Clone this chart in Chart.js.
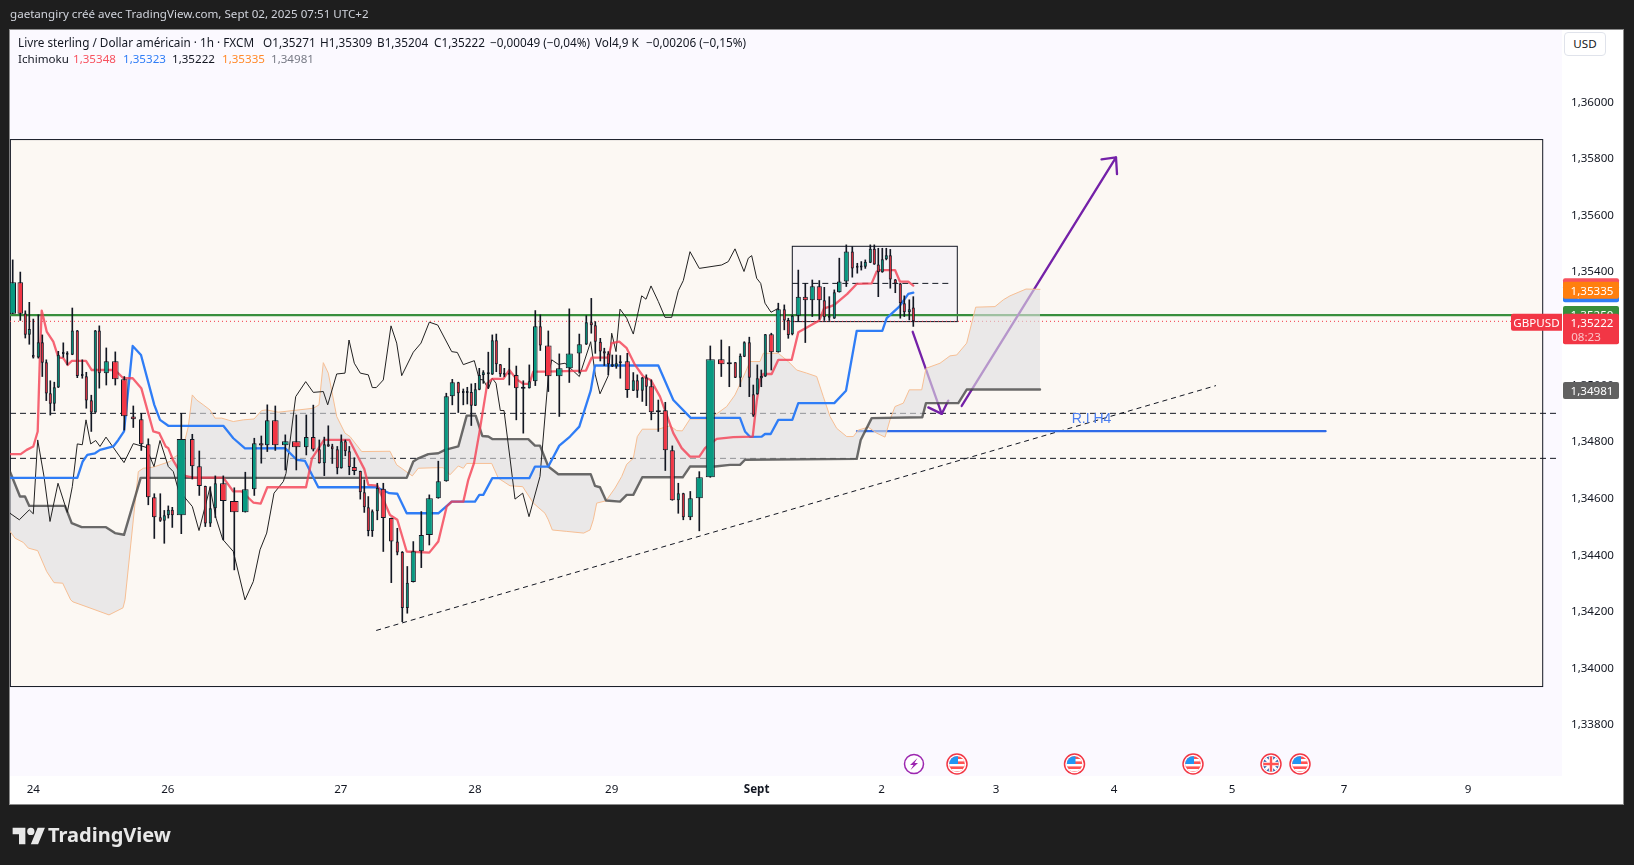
<!DOCTYPE html>
<html lang="fr"><head><meta charset="utf-8"><title>GBPUSD</title>
<script src="https://cdn.jsdelivr.net/npm/chart.js@4/dist/chart.umd.min.js"></script>
<style>
html,body{margin:0;padding:0;background:#1e1e1e;width:1634px;height:865px;overflow:hidden;font-family:"Noto Sans",sans-serif}
#paper{position:absolute;left:10px;top:30px;width:1613px;height:774px;background:#fff;box-shadow:0 0 0 1px #8a8a8a}
canvas{position:absolute;left:0;top:0}
.t{position:absolute;white-space:pre;font-size:11.6px;line-height:16px;z-index:3}
.r{font-size:11.75px;top:34px;color:#131722}
#credit{left:10px;top:6px;color:#d1d4dc}
#usd{left:1564px;top:32px;width:42px;height:24px;box-sizing:border-box;border:1px solid #e0e3eb;border-radius:4px;text-align:center;line-height:22px;background:#fff;color:#131722}
#logoText{left:48px;top:821px;font:700 20px/28px "Noto Sans",sans-serif;color:#e8e8e8}
#logo{position:absolute;left:11px;top:826px;z-index:3}
</style></head><body>
<div id="paper"></div>
<canvas id="c" width="1634" height="865"></canvas>
<div class="t" id="credit">gaetangiry créé avec TradingView.com, Sept 02, 2025 07:51 UTC+2</div>
<div class="t r" style="left:18px">Livre sterling / Dollar américain · 1h · FXCM</div>
<div class="t r" style="left:263px">O1,35271</div>
<div class="t r" style="left:320px">H1,35309</div>
<div class="t r" style="left:377px">B1,35204</div>
<div class="t r" style="left:434px">C1,35222</div>
<div class="t r" style="left:490px">−0,00049 (−0,04%)</div>
<div class="t r" style="left:595px">Vol4,9 K</div>
<div class="t r" style="left:646px">−0,00206 (−0,15%)</div>
<div class="t" style="left:18px;top:51px;color:#131722">Ichimoku</div>
<div class="t" style="left:73px;top:51px;color:#f7525f">1,35348</div>
<div class="t" style="left:123px;top:51px;color:#2f7df6">1,35323</div>
<div class="t" style="left:172px;top:51px;color:#131722">1,35222</div>
<div class="t" style="left:222px;top:51px;color:#ff8a2b">1,35335</div>
<div class="t" style="left:271px;top:51px;color:#787b86">1,34981</div>
<div class="t" id="usd">USD</div>
<svg id="logo" width="36" height="20" viewBox="0 0 36 22"><path fill="#e8e8e8" d="M14 20H7V9H0V2h14v18zM28 20h-8l7.5-18h8L28 20z"/><circle fill="#e8e8e8" cx="20" cy="6" r="4"/></svg>
<div class="t" id="logoText">TradingView</div>
<script>
const candleX=[12.7,20.3,25.3,29.3,33.3,38.3,42.3,46.3,50.3,54.3,
58.3,63.3,67.3,72.3,77.3,82.3,86.3,91.3,95.3,99.3,
106.3,115.3,124.3,133.3,141.3,148.3,154.3,160.3,164.3,168.3,
172.3,181.3,192.3,199.3,205.3,210.3,215.3,223.3,234.3,245.3,
254.3,261.3,267.3,275.3,285.3,296.3,306.3,313.3,319.3,324.3,
328.3,332.3,337.3,341.3,345.3,349.3,354.3,360.3,364.3,368.3,
372.3,377.3,383.3,391.3,397.3,402.3,407.3,413.3,421.3,429.3,
438.3,446.3,452.3,458.3,463.3,467.3,471.3,475.3,479.3,483.3,
488.3,492.3,496.3,500.3,504.3,509.3,516.3,523.3,529.3,535.3,
540.3,548.3,559.3,569.3,579.3,586.3,591.3,595.3,600.3,604.3,
608.3,612.3,616.3,620.3,627.3,633.3,637.3,642.3,646.3,651.3,
658.3,665.3,672.3,678.3,683.3,690.3,699.3,710.3,721.3,729.3,
735.3,740.3,744.3,749.3,753.3,757.3,761.3,765.3,771.3,778.3,
784.3,788.3,792.3,798.3,805.3,812.3,819.3,824.3,829.3,834.3,
839.3,846.3,852.3,857.3,861.3,865.3,870.3,874.3,878.3,882.3,
886.3,890.3,895.3,900.3,904.3,909.3,913.3];
const candleWidth=[6,5,2.5,2.5,2,2.5,2.5,2.5,2.5,2.5,
2.5,2,2,2.5,2.5,2,2.5,2.5,2.5,2.5,
4.5,6,6,4.5,4,4,4,2.5,2.5,2.5,
2.5,8.5,4,4.5,2.5,2.5,2.5,6,8,6,
4,4,4,6,6,8,4,4,2.5,2.5,
2.5,2,2.5,2.5,2.5,2.5,4.5,2.5,2.5,2.5,
2.5,2.5,4.5,4,2.5,2.5,2.5,4.5,4.5,6.5,
4.5,4.5,4.5,2.5,2,2,2.5,2.5,2.5,2.5,
2.5,2.5,2.5,2.5,2,2,4,4,2.5,4,
2.5,6,6,6.5,4.5,2.5,2.5,2.5,2.5,2.5,
2.5,2.5,2.5,2.5,4.5,2.5,2.5,2.5,2.5,4.5,
4.5,4.5,4.5,2.5,2.5,4.5,6.5,8.5,6,4.5,
2.5,2.5,2.5,2.5,2.5,2.5,2.5,2.5,4.5,4.5,
2.5,2.5,2.5,4.5,4.5,4.5,4.5,2.5,2,2.5,
4,4.5,2.5,2,2,2.5,2.5,2.5,2.5,2.5,
2.5,2.5,2.5,2.5,2.5,2.5,2.5];
const candleOpen=[1.35249,1.35360,1.35250,1.35175,1.35103,1.35094,1.35148,1.35077,1.34968,1.34931,
1.34988,1.35109,1.35104,1.35104,1.35190,1.35032,1.35028,1.34943,1.34900,1.35190,
1.35039,1.35081,1.35017,1.34886,1.34876,1.34788,1.34601,1.34530,1.34518,1.34537,
1.34556,1.34537,1.34806,1.34710,1.34640,1.34508,1.34562,1.34650,1.34587,1.34548,
1.34629,1.34791,1.34784,1.34873,1.34784,1.34798,1.34777,1.34813,1.34770,1.34721,
1.34788,1.34781,1.34770,1.34703,1.34798,1.34763,1.34707,1.34693,1.34618,1.34565,
1.34481,1.34551,1.34631,1.34527,1.34444,1.34407,1.34209,1.34301,1.34410,1.34467,
1.34597,1.34657,1.34957,1.35007,1.34972,1.34972,1.34972,1.34924,1.34980,1.35032,
1.35042,1.35034,1.35155,1.35070,1.35035,1.35035,1.35032,1.34987,1.34986,1.35010,
1.35205,1.35137,1.35028,1.35056,1.35108,1.35140,1.35219,1.35208,1.35150,1.35116,
1.35108,1.35062,1.35062,1.35074,1.35081,1.34977,1.35014,1.34977,1.35024,1.34993,
1.34901,1.34908,1.34767,1.34590,1.34615,1.34530,1.34597,1.34671,1.35088,1.35070,
1.35077,1.35023,1.35097,1.35148,1.34964,1.34964,1.35021,1.35027,1.35176,1.35113,
1.35265,1.35227,1.35176,1.35242,1.35309,1.35296,1.35346,1.35296,1.35237,1.35232,
1.35325,1.35363,1.35469,1.35413,1.35412,1.35415,1.35429,1.35478,1.35423,1.35395,
1.35441,1.35455,1.35370,1.35356,1.35286,1.35254,1.35271];
const candleClose=[1.35360,1.35249,1.35175,1.35195,1.35094,1.35148,1.35076,1.34967,1.34931,1.34989,
1.35104,1.35107,1.35109,1.35190,1.35029,1.35029,1.34942,1.34900,1.35190,1.35039,
1.35081,1.35017,1.34887,1.34876,1.34788,1.34601,1.34530,1.34518,1.34537,1.34556,
1.34537,1.34806,1.34710,1.34640,1.34508,1.34562,1.34650,1.34587,1.34548,1.34629,
1.34791,1.34783,1.34873,1.34784,1.34798,1.34777,1.34813,1.34769,1.34721,1.34788,
1.34780,1.34770,1.34703,1.34798,1.34763,1.34707,1.34693,1.34618,1.34565,1.34481,
1.34551,1.34633,1.34527,1.34444,1.34405,1.34209,1.34299,1.34410,1.34467,1.34597,
1.34657,1.34957,1.35007,1.34968,1.34969,1.34969,1.34924,1.34982,1.35032,1.35042,
1.35035,1.35155,1.35070,1.35035,1.35033,1.35033,1.34986,1.34984,1.35010,1.35205,
1.35137,1.35028,1.35056,1.35108,1.35141,1.35219,1.35208,1.35150,1.35115,1.35108,
1.35070,1.35070,1.35074,1.35081,1.34979,1.35014,1.34977,1.35024,1.34991,1.34901,
1.34908,1.34767,1.34590,1.34615,1.34530,1.34597,1.34671,1.35088,1.35070,1.35077,
1.35023,1.35100,1.35148,1.35023,1.34889,1.35021,1.35029,1.35176,1.35113,1.35265,
1.35225,1.35174,1.35242,1.35309,1.35296,1.35346,1.35296,1.35236,1.35235,1.35325,
1.35363,1.35469,1.35409,1.35411,1.35418,1.35432,1.35478,1.35423,1.35395,1.35441,
1.35455,1.35370,1.35356,1.35286,1.35254,1.35265,1.35222];
const candleHigh=[1.35439,1.35396,1.35259,1.35289,1.35230,1.35245,1.35174,1.35086,1.35012,1.35007,
1.35116,1.35146,1.35115,1.35269,1.35190,1.35086,1.35042,1.34961,1.35190,1.35206,
1.35128,1.35114,1.35027,1.34923,1.34897,1.34807,1.34613,1.34613,1.34554,1.34570,
1.34565,1.34897,1.34823,1.34764,1.34640,1.34638,1.34676,1.34676,1.34634,1.34689,
1.34809,1.34817,1.34927,1.34923,1.34821,1.34891,1.34891,1.34926,1.34803,1.34813,
1.34853,1.34788,1.34780,1.34821,1.34803,1.34780,1.34740,1.34693,1.34662,1.34603,
1.34556,1.34650,1.34650,1.34527,1.34491,1.34409,1.34356,1.34444,1.34550,1.34609,
1.34728,1.34968,1.35017,1.35007,1.34983,1.34989,1.35001,1.35003,1.35056,1.35048,
1.35113,1.35174,1.35177,1.35070,1.35056,1.35127,1.35064,1.35012,1.35068,1.35260,
1.35245,1.35188,1.35107,1.35266,1.35177,1.35242,1.35303,1.35221,1.35162,1.35127,
1.35115,1.35103,1.35103,1.35101,1.35109,1.35041,1.35033,1.35024,1.35033,1.35015,
1.34944,1.34936,1.34782,1.34650,1.34615,1.34621,1.34691,1.35135,1.35156,1.35133,
1.35077,1.35107,1.35150,1.35166,1.34997,1.35068,1.35050,1.35176,1.35180,1.35286,
1.35280,1.35233,1.35245,1.35403,1.35356,1.35368,1.35366,1.35342,1.35309,1.35333,
1.35445,1.35492,1.35486,1.35427,1.35433,1.35439,1.35492,1.35492,1.35480,1.35480,
1.35480,1.35476,1.35370,1.35356,1.35312,1.35298,1.35309];
const candleLow=[1.35249,1.35225,1.35163,1.35141,1.35092,1.35092,1.35027,1.34942,1.34891,1.34906,
1.34988,1.35095,1.35068,1.35104,1.35023,1.35021,1.34915,1.34833,1.34900,1.34986,
1.34997,1.34997,1.34838,1.34847,1.34766,1.34574,1.34455,1.34515,1.34438,1.34527,
1.34494,1.34472,1.34665,1.34607,1.34497,1.34497,1.34529,1.34450,1.34344,1.34548,
1.34607,1.34721,1.34762,1.34766,1.34697,1.34697,1.34750,1.34764,1.34721,1.34677,
1.34780,1.34720,1.34683,1.34703,1.34747,1.34680,1.34680,1.34594,1.34547,1.34464,
1.34462,1.34521,1.34409,1.34299,1.34397,1.34161,1.34191,1.34301,1.34352,1.34432,
1.34597,1.34657,1.34927,1.34900,1.34927,1.34930,1.34854,1.34924,1.34980,1.35003,
1.34986,1.35034,1.35044,1.35027,1.35027,1.34997,1.34874,1.34827,1.34986,1.34995,
1.35119,1.34974,1.34886,1.35006,1.35039,1.35140,1.35180,1.35109,1.35082,1.35066,
1.35033,1.35062,1.35056,1.35021,1.34953,1.34977,1.34953,1.34939,1.34924,1.34874,
1.34833,1.34695,1.34590,1.34544,1.34521,1.34521,1.34482,1.34671,1.35027,1.34991,
1.35023,1.34991,1.35097,1.34956,1.34886,1.34964,1.34991,1.35027,1.35050,1.35113,
1.35192,1.35162,1.35174,1.35221,1.35147,1.35239,1.35229,1.35225,1.35225,1.35232,
1.35325,1.35345,1.35378,1.35392,1.35403,1.35409,1.35429,1.35423,1.35309,1.35395,
1.35439,1.35339,1.35323,1.35233,1.35239,1.35227,1.35204];

const tenkan=[[10,1.34753],[20.7,1.34753],[26.7,1.34768],[33.3,1.34780],[37.7,1.34833],[40,1.35109],[41.7,1.35260],[44,1.35227],[46.7,1.35186],[53.3,1.35150],[58.3,1.35095],[63.3,1.35092],[67.7,1.35068],[71.7,1.35082],[86,1.35082],[91.7,1.35050],[115,1.35050],[123.3,1.35021],[132.7,1.35021],[141.3,1.34986],[153.3,1.34833],[159.3,1.34827],[165.7,1.34780],[168.3,1.34774],[173.3,1.34730],[178.3,1.34700],[185,1.34676],[193.3,1.34670],[223.3,1.34670],[233.3,1.34621],[241.7,1.34621],[253.3,1.34582],[260.7,1.34578],[267.3,1.34636],[306,1.34636],[312,1.34738],[324,1.34803],[349.3,1.34803],[364.3,1.34700],[368.3,1.34644],[377.3,1.34642],[390,1.34538],[397.3,1.34521],[406.7,1.34409],[429.3,1.34405],[438.3,1.34444],[446.7,1.34568],[451.7,1.34585],[463.3,1.34585],[468.3,1.34662],[474,1.34721],[479.3,1.34827],[487.3,1.35003],[492.3,1.35019],[503.3,1.35019],[509.3,1.35050],[516.7,1.35017],[523.3,1.35001],[529.3,1.35001],[533.3,1.35044],[545,1.35044],[586,1.35048],[591.7,1.35094],[608.3,1.35094],[611.7,1.35145],[619.3,1.35150],[626.7,1.35127],[635,1.35068],[643.3,1.35027],[650.7,1.35015],[660,1.34956],[673.3,1.34827],[681.7,1.34774],[690,1.34744],[699.3,1.34744],[705,1.34774],[716.7,1.34807],[733.3,1.34813],[752.7,1.34815],[756.7,1.34939],[760,1.35015],[763.3,1.35036],[771.7,1.35036],[778.3,1.35086],[791.7,1.35086],[798.3,1.35183],[819.3,1.35225],[824,1.35268],[830,1.35274],[834.3,1.35280],[847.3,1.35319],[856.7,1.35354],[871.7,1.35356],[876.7,1.35398],[880,1.35403],[895,1.35403],[900,1.35362],[908.3,1.35362],[913.3,1.35348]];
const kijun=[[10,1.34669],[77.3,1.34669],[82.7,1.34727],[87.3,1.34750],[95,1.34756],[100,1.34768],[106.7,1.34774],[113.3,1.34780],[118.3,1.34803],[124,1.34833],[132.7,1.35135],[141,1.35103],[154.3,1.34927],[160,1.34874],[168.3,1.34853],[223.3,1.34853],[233.3,1.34809],[245,1.34773],[285,1.34774],[296.7,1.34733],[305,1.34729],[318.3,1.34636],[376.7,1.34636],[389.3,1.34615],[397.3,1.34613],[406.7,1.34544],[438.3,1.34544],[451.7,1.34585],[475,1.34585],[479.3,1.34609],[483.3,1.34609],[492.3,1.34668],[529.3,1.34668],[535,1.34709],[548.3,1.34709],[559.3,1.34783],[570,1.34815],[579.3,1.34850],[590.7,1.34977],[595,1.35066],[658.3,1.35066],[673.3,1.34944],[690.7,1.34881],[740,1.34881],[745,1.34833],[750,1.34814],[761.7,1.34815],[765,1.34824],[770.7,1.34824],[778.3,1.34874],[792.3,1.34874],[798.3,1.34933],[834.3,1.34933],[846,1.34977],[856.7,1.35188],[882.3,1.35188],[886.7,1.35233],[899.3,1.35274],[908.3,1.35319],[913.3,1.35323]];
const chikou=[[10,1.34544],[19.3,1.34521],[29.3,1.34556],[33.3,1.34542],[37.7,1.34803],[44,1.34674],[50,1.34515],[58,1.34650],[67.3,1.34547],[72.3,1.34638],[77.3,1.34789],[82.3,1.34786],[86,1.34874],[90.7,1.34789],[95.7,1.34801],[100,1.34780],[106,1.34813],[124,1.34723],[133.3,1.34790],[146,1.34777],[154,1.34709],[160,1.34801],[168.3,1.34709],[173.3,1.34691],[178.3,1.34627],[192.3,1.34568],[199,1.34483],[210,1.34635],[216,1.34527],[222.7,1.34452],[233.3,1.34409],[245,1.34238],[253.3,1.34303],[260,1.34415],[266.7,1.34474],[274,1.34615],[283.3,1.34656],[286,1.34685],[295.7,1.34956],[305.7,1.35009],[313.3,1.34971],[323.3,1.34974],[327.7,1.34927],[336.7,1.35036],[345,1.35039],[349,1.35156],[354.3,1.35074],[360.3,1.35039],[368.3,1.35033],[372.3,1.34988],[376.3,1.34988],[383.3,1.35015],[391,1.35206],[396.7,1.35145],[401.7,1.35030],[413.3,1.35113],[421,1.35145],[429.3,1.35219],[437.7,1.35209],[451.7,1.35115],[457.3,1.35112],[463.3,1.35069],[474.3,1.35083],[479.3,1.35017],[483.3,1.35015],[488.3,1.34983],[492.3,1.35021],[496,1.35003],[500.3,1.34907],[504,1.34907],[510,1.34738],[515,1.34594],[522.7,1.34615],[529,1.34532],[540,1.34674],[548.3,1.35027],[551.7,1.35086],[558.3,1.35070],[565,1.35074],[579.3,1.35027],[590.7,1.35150],[595.3,1.35033],[600,1.34966],[608.3,1.35030],[611.7,1.35180],[616,1.35115],[620,1.35265],[626.7,1.35233],[633.3,1.35177],[641.7,1.35312],[646,1.35300],[651,1.35347],[658.3,1.35292],[665,1.35236],[671.7,1.35236],[678.3,1.35330],[683.3,1.35366],[690,1.35468],[699.3,1.35409],[721.7,1.35421],[728.3,1.35433],[735,1.35478],[744,1.35398],[748.3,1.35445],[751.7,1.35454],[756.7,1.35374],[760.7,1.35356],[765,1.35286],[771,1.35254],[778.3,1.35268]];
const senkouB=[[10,1.34691],[20,1.34603],[25,1.34603],[29.3,1.34570],[65,1.34570],[71.7,1.34509],[81.7,1.34495],[106,1.34495],[115,1.34474],[124,1.34468],[140.7,1.34669],[406.7,1.34669],[413.3,1.34727],[418.3,1.34738],[428.3,1.34753],[438.3,1.34756],[445,1.34768],[458.3,1.34780],[466.7,1.34889],[475.7,1.34889],[482.3,1.34817],[488.3,1.34815],[492.3,1.34806],[528.3,1.34806],[535,1.34783],[540,1.34783],[548.3,1.34709],[558.3,1.34682],[590.7,1.34682],[595,1.34641],[600,1.34636],[606,1.34589],[620,1.34585],[626.7,1.34609],[633.3,1.34609],[642.3,1.34671],[682.7,1.34671],[690,1.34709],[715,1.34709],[730,1.34715],[740,1.34715],[745,1.34733],[856.7,1.34736],[860.7,1.34803],[871.7,1.34880],[922.3,1.34883],[926,1.34933],[958.3,1.34933],[966.7,1.34981],[1040,1.34981]];
const senkouA=[[10,1.34480],[15,1.34456],[23.3,1.34441],[28.3,1.34421],[37.7,1.34412],[46.7,1.34338],[54,1.34299],[62.7,1.34297],[70.7,1.34238],[73,1.34231],[88,1.34212],[109,1.34185],[123,1.34210],[125,1.34238],[138.3,1.34691],[143.3,1.34703],[153.3,1.34707],[170,1.34727],[175,1.34744],[181.7,1.34756],[188.3,1.34850],[192.3,1.34962],[196.7,1.34944],[203.3,1.34927],[210,1.34909],[215,1.34880],[221.7,1.34880],[233.3,1.34868],[243.3,1.34874],[254,1.34877],[261.7,1.34907],[266.7,1.34909],[278.3,1.34901],[293.3,1.34907],[313.3,1.34915],[319,1.34927],[323.3,1.35076],[328.3,1.35039],[336.7,1.34886],[345,1.34827],[350,1.34815],[361.7,1.34762],[390,1.34763],[396.7,1.34715],[412.3,1.34676],[418.3,1.34703],[436.7,1.34705],[443.3,1.34705],[450,1.34680],[458.3,1.34711],[463.3,1.34703],[466.7,1.34720],[491.7,1.34720],[498.3,1.34668],[510,1.34641],[522.7,1.34638],[533.3,1.34580],[545,1.34544],[548.3,1.34521],[552.3,1.34485],[566.7,1.34480],[583.7,1.34474],[590,1.34485],[593.3,1.34521],[596.7,1.34580],[606,1.34588],[615,1.34633],[621.7,1.34674],[626.7,1.34717],[633.3,1.34738],[637.3,1.34815],[642.3,1.34841],[658.3,1.34841],[670,1.34853],[676.7,1.34836],[682.3,1.34835],[690,1.34877],[706.7,1.34877],[715,1.34891],[726.7,1.34921],[735,1.34962],[745,1.35039],[750,1.35080],[760,1.35080],[763.3,1.35109],[778.3,1.35109],[788.3,1.35080],[796.7,1.35050],[806.7,1.35039],[816.7,1.35027],[823.3,1.34956],[830,1.34886],[836.7,1.34844],[846.7,1.34815],[853.3,1.34815],[858.3,1.34838],[868.3,1.34848],[876.7,1.34827],[885,1.34813],[890,1.34874],[895,1.34921],[903.3,1.34933],[909.3,1.34980],[921.7,1.34980],[926,1.35056],[940,1.35074],[950,1.35100],[956.7,1.35103],[966.7,1.35145],[975.7,1.35272],[995,1.35274],[1003.3,1.35298],[1010,1.35312],[1026,1.35336],[1040,1.35335]];

const greenLevel=[[10,1.35244],[1562,1.35244]];
const lastPriceLine=[[10,1.35222],[1562,1.35222]];
const dashedHigh=[[10,1.34897],[1560,1.34897]];
const dashedLow=[[10,1.34738],[1560,1.34738]];
const boxMiddle=[[792.3,1.35356],[951.7,1.35356]];
const trendLine=[[376.2,1.34130],[1216,1.34995]];
const blueLevel=[[857,1.34834],[1325.6,1.34834]];
const arrowDown=[[912.7,1.35185],[941.7,1.34895]];
const arrowDownHead=[[928.3,1.34918],[941.7,1.34895],[948.3,1.34942]];
const arrowUp=[[961.7,1.34923],[1116,1.35801]];
const arrowUpHead=[[1101.5,1.35794],[1116,1.35801],[1117,1.35742]];

const outerBox={x:[10.4,1542.7],y:[1.35864,1.33932]};
const innerBox={x:[792.3,957.3],y:[1.35487,1.35221]};

const priceTicks=[1.338,1.340,1.342,1.344,1.346,1.348,1.350,1.352,1.354,1.356,1.358,1.360];
const timeTickX=[33.3,167.8,340.8,475,611.7,756.6,881.6,996,1114,1232,1344,1468];
const timeTickLabels=['24','26','27','28','29','Sept','2','3','4','5','7','9'];
const tagPrices=[1.35348,1.35323,1.35250,1.35335,1.34981];
const tagColors=['#f7525f','#2f7df6','#388e3c','#ff7f0e','#616161'];
const tagLabels=['1,35348','1,35323','1,35250','1,35335','1,34981'];
const lastPrice=1.35222;
const eventX=[914,957,1074.5,1193,1271,1300];
const eventKind=['bolt','us','us','us','uk','us'];
const riLabel={x:1091.5,y:1.34878,text:'R.I H4'};

const UP='#089981',DOWN='#f23645',INK='#131722',PURPLE='#7421a8';
const fmt=v=>v.toFixed(5).replace('.',',');
const pts=a=>a.map(p=>({x:p[0],y:p[1]}));
const line=(label,a,color,width,order,extra)=>Object.assign({type:'line',label,data:pts(a),borderColor:color,borderWidth:width,order,pointRadius:0,tension:0,fill:false,borderJoinStyle:'round',borderCapStyle:'round'},extra||{});

const datasets=[
 line('Niveau vert',greenLevel,'#388e3c',2.2,40),
 line('Dernier prix',lastPriceLine,DOWN,1,40,{borderDash:[1,3],borderCapStyle:'butt'}),
 line('Pointillés haut',dashedHigh,INK,1,41,{borderDash:[6,4],borderCapStyle:'butt'}),
 line('Pointillés bas',dashedLow,INK,1,41,{borderDash:[6,4],borderCapStyle:'butt'}),
 line('Milieu boîte',boxMiddle,INK,1,41,{borderDash:[6,4],borderCapStyle:'butt'}),
 line('Tendance',trendLine,INK,1,41,{borderDash:[5,4],borderCapStyle:'butt'}),
 line('R.I H4',blueLevel,'#2f6be8',2.2,40),
 line('Flèche bas',arrowDown,PURPLE,2.3,39),
 line('Tête bas',arrowDownHead,PURPLE,2.3,39),
 line('Flèche haut',arrowUp,PURPLE,2.3,39),
 line('Tête haut',arrowUpHead,PURPLE,2.3,39),
];
const bIdx=datasets.length+1;
datasets.push(line('Senkou A',senkouA,'#f7bf94',1,20,{fill:{target:bIdx},backgroundColor:'rgba(222,222,225,0.62)'}));
datasets.push(line('Senkou B',senkouB,'rgba(70,70,70,0.8)',2.4,19));
datasets.push(line('Chikou',chikou,'#222222',1,12));
datasets.push(line('Kijun',kijun,'#2f7df6',2.3,11));
datasets.push(line('Tenkan',tenkan,'rgba(244,62,82,0.8)',2.3,10));
datasets.push({type:'bar',label:'Mèches',data:candleX.map((x,i)=>({x,y:[candleLow[i],candleHigh[i]]})),backgroundColor:INK,barThickness:1,grouped:false,order:3,borderWidth:0});
[...new Set(candleWidth)].forEach(w=>{
  const idx=candleX.map((_,i)=>i).filter(i=>candleWidth[i]===w);
  datasets.push({type:'bar',label:'Corps '+w,data:idx.map(i=>({x:candleX[i],y:[candleOpen[i],candleClose[i]]})),
    backgroundColor:idx.map(i=>candleClose[i]>=candleOpen[i]?UP:DOWN),borderColor:INK,borderWidth:1,borderSkipped:false,inflateAmount:0,
    barThickness:w+0.6,minBarLength:2,grouped:false,order:2});
});

function box(ctx,s,b,fill,stroke){
  const x0=s.x.getPixelForValue(b.x[0]),x1=s.x.getPixelForValue(b.x[1]),y0=s.y.getPixelForValue(b.y[0]),y1=s.y.getPixelForValue(b.y[1]);
  ctx.fillStyle=fill;ctx.fillRect(x0,y0,x1-x0,y1-y0);ctx.strokeStyle=stroke;ctx.lineWidth=1;ctx.strokeRect(x0,y0,x1-x0,y1-y0);
}
function rr(ctx,x,y,w,h,r){ctx.beginPath();ctx.roundRect(x,y,w,h,r);ctx.fill();}
function drawEvent(ctx,x,y,kind){
  const r=kind==='bolt'?9.5:10;
  ctx.save();ctx.beginPath();ctx.arc(x,y,r+1,0,7);ctx.fillStyle='#fff';ctx.fill();
  if(kind==='bolt'){
    ctx.beginPath();ctx.arc(x,y,r,0,7);ctx.strokeStyle='#9c27b0';ctx.lineWidth=1.5;ctx.stroke();
    ctx.fillStyle='#9c27b0';ctx.beginPath();ctx.moveTo(x+3.5,y-6);ctx.lineTo(x-4,y+1);ctx.lineTo(x-.5,y+1);ctx.lineTo(x-3.5,y+6);ctx.lineTo(x+4,y-1);ctx.lineTo(x+.5,y-1);ctx.closePath();ctx.fill();
  }else{
    ctx.beginPath();ctx.arc(x,y,r-2.2,0,7);ctx.clip();
    if(kind==='us'){
      ctx.fillStyle='#ff5252';ctx.fillRect(x-8,y-8,16,16);
      ctx.fillStyle='#fff';ctx.fillRect(x-8,y-5,16,2.4);ctx.fillRect(x-8,y,16,2.4);ctx.fillRect(x-8,y+5,16,2.4);
      ctx.fillStyle='#2196f3';ctx.fillRect(x-8,y-8,9,8);
    }else{
      ctx.fillStyle='#1e53a8';ctx.fillRect(x-8,y-8,16,16);
      ctx.strokeStyle='#fff';ctx.lineWidth=3;ctx.beginPath();ctx.moveTo(x-8,y-8);ctx.lineTo(x+8,y+8);ctx.moveTo(x+8,y-8);ctx.lineTo(x-8,y+8);ctx.stroke();
      ctx.lineWidth=4.5;ctx.beginPath();ctx.moveTo(x,y-8);ctx.lineTo(x,y+8);ctx.moveTo(x-8,y);ctx.lineTo(x+8,y);ctx.stroke();
      ctx.strokeStyle='#ff5252';ctx.lineWidth=2.4;ctx.beginPath();ctx.moveTo(x,y-8);ctx.lineTo(x,y+8);ctx.moveTo(x-8,y);ctx.lineTo(x+8,y);ctx.stroke();
    }
    ctx.restore();ctx.save();
    ctx.beginPath();ctx.arc(x,y,r,0,7);ctx.strokeStyle='#f23645';ctx.lineWidth=1.5;ctx.stroke();
  }
  ctx.restore();
}
const decor={id:'decor',
 beforeDraw(c){const a=c.chartArea,ctx=c.ctx;ctx.save();ctx.fillStyle='#fbf9ff';ctx.fillRect(a.left,a.top,a.right-a.left,a.bottom-a.top);ctx.restore();},
 beforeDatasetsDraw(c){const ctx=c.ctx;ctx.save();box(ctx,c.scales,outerBox,'#fcf8f3','#131722');box(ctx,c.scales,innerBox,'#f6f3f6','#131722');ctx.restore();},
 afterDraw(c){
  const ctx=c.ctx,X=c.scales.x,Y=c.scales.y,F='11.6px "Noto Sans"';ctx.save();
  ctx.textAlign='center';ctx.textBaseline='middle';
  ctx.fillStyle='#4a7df0';ctx.font='14px "Liberation Sans"';ctx.fillText(riLabel.text,X.getPixelForValue(riLabel.x),Y.getPixelForValue(riLabel.y));
  tagPrices.forEach((p,i)=>{const y=Y.getPixelForValue(p)+1;ctx.fillStyle=tagColors[i];rr(ctx,1563,y-8.5,56,17,2);ctx.fillStyle='#fff';ctx.font=F;ctx.fillText(tagLabels[i],1592,y+1);});
  const y=Y.getPixelForValue(lastPrice)+1;
  ctx.fillStyle=DOWN;rr(ctx,1563,y-8.5,56,30.5,2);rr(ctx,1511,y-8.5,51,17,[2,0,0,2]);
  ctx.fillStyle='#fff';ctx.font=F;ctx.fillText(fmt(lastPrice),1592,y+1);ctx.fillText('GBPUSD',1536.5,y+1);
  ctx.fillStyle='rgba(255,255,255,.7)';ctx.fillText('08:23',1586,y+15);
  eventX.forEach((x,i)=>drawEvent(ctx,X.getPixelForValue(x),764,eventKind[i]));
  ctx.restore();
 }};

new Chart(document.getElementById('c'),{
 data:{datasets},plugins:[decor],
 options:{responsive:false,animation:false,devicePixelRatio:1,
  layout:{padding:{left:10,top:30,right:11,bottom:61}},
  plugins:{legend:{display:false},tooltip:{enabled:false},title:{display:false}},
  scales:{
   x:{type:'linear',min:10,max:1562,offset:false,grid:{display:false,drawTicks:false},border:{display:false},
    afterBuildTicks:s=>{s.ticks=timeTickX.map(v=>({value:v}));},
    afterFit:s=>{s.height=28;},
    ticks:{autoSkip:false,maxRotation:0,padding:7,color:INK,
     font:c=>({family:'"Noto Sans"',size:11.6,weight:(c.tick&&timeTickX.indexOf(c.tick.value)===5)?'700':'400'}),
     callback:v=>timeTickLabels[timeTickX.indexOf(v)]}},
   y:{type:'linear',position:'right',min:1.33616,max:1.36251,grid:{display:false,drawTicks:false},border:{display:false},
    afterBuildTicks:s=>{s.ticks=priceTicks.map(v=>({value:v}));},
    afterFit:s=>{s.width=61;},
    ticks:{padding:9,color:INK,font:{family:'"Noto Sans"',size:11.6,lineHeight:0.2},callback:v=>['',fmt(v)]}}
  }}
});
</script></body></html>
